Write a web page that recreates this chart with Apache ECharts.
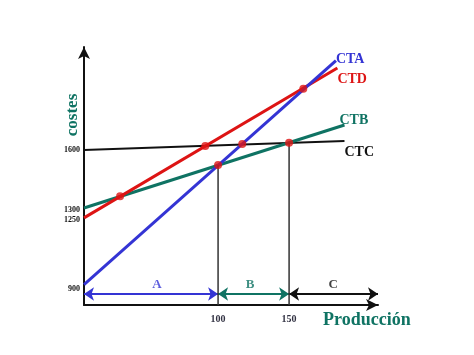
<!DOCTYPE html>
<html><head><meta charset="utf-8">
<script src="https://cdn.jsdelivr.net/npm/echarts@6/dist/echarts.min.js"></script>
<style>html,body{margin:0;padding:0;background:#fff}#c{width:474px;height:355px}</style>
</head><body><div id="c"></div>
<script>
// Data
const ctaLine = [[5.6, 922], [183, 2050]];
const ctdLine = [[5.6, 1258], [184, 2013]];
const ctbLine = [[5.6, 1308], [189, 1726]];
const ctcLine = [[5.6, 1600], [189, 1645]];
const intersections = [[31, 1367], [91, 1620], [100, 1524], [117, 1630], [150, 1636], [160, 1908]];
const guide100 = [[100, 819.4], [100, 1524]];
const guide150 = [[150, 819.4], [150, 1636]];
const zoneNames = ['A', 'B', 'C'];
const zoneSpans = [[5.6, 100], [100, 150], [150, 212.6]];
const zoneLabelX = [57, 122.5, 181];
const zoneArrowY = 875;
const zoneLabelY = 920;
const yTicks = [900, 1250, 1300, 1600];
const xTicks = [100, 150];

const BLUE = '#3434d4', RED = '#dd1414', TEAL = '#0f7363', BLACK = '#111';
const zoneColors = [BLUE, TEAL, BLACK];
const F = 'Liberation Serif';

function lineSeries(name, data, color, width, label, offset) {
  return {
    type: 'line', name, data, symbol: 'none', silent: true,
    lineStyle: { color, width },
    endLabel: { show: true, formatter: label, color, fontFamily: F, fontWeight: 'bold', fontSize: 14, distance: 0, offset }
  };
}

const chart = echarts.init(document.getElementById('c'));
chart.setOption({
  animation: false,
  grid: { left: 84, top: 47, width: 294, height: 258 },
  graphic: [{
    type: 'text', x: 73, y: 115, rotation: Math.PI / 2,
    style: { text: 'costes', fill: TEAL, font: 'bold 17px "Liberation Serif"', align: 'center', verticalAlign: 'middle' }
  }],
  xAxis: {
    type: 'value', min: 5.6, max: 212.6,
    splitLine: { show: false },
    axisTick: { show: false },
    axisLine: { lineStyle: { color: BLACK, width: 2 }, symbol: ['none', 'arrow'], symbolSize: [9, 12] },
    axisLabel: { customValues: xTicks, formatter: v => String(v), color: '#334', fontFamily: F, fontWeight: 'bold', fontSize: 10, margin: 9 },
    name: 'Producción', nameLocation: 'end', nameGap: 0,
    nameTextStyle: { color: TEAL, fontFamily: F, fontWeight: 'bold', fontSize: 18, align: 'left', verticalAlign: 'top', padding: [6, 0, 0, -55], lineHeight: 18 }
  },
  yAxis: {
    type: 'value', min: 819.4, max: 2118.7,
    splitLine: { show: false },
    axisTick: { show: false },
    axisLine: { show: true, lineStyle: { color: BLACK, width: 2 }, symbol: ['none', 'arrow'], symbolSize: [9, 12] },
    axisLabel: { customValues: yTicks, formatter: v => String(v), color: BLACK, fontFamily: F, fontWeight: 'bold', fontSize: 8, margin: 4 }
  },
  series: [
    lineSeries('CTC', ctcLine, BLACK, 2, 'CTC', [0, 11]),
    lineSeries('CTB', ctbLine, TEAL, 3, 'CTB', [-5, -5]),
    lineSeries('CTD', ctdLine, RED, 3, 'CTD', [0, 11]),
    lineSeries('CTA', ctaLine, BLUE, 3, 'CTA', [0, -1]),
    { type: 'line', data: guide100, symbol: 'none', silent: true, lineStyle: { color: '#333', width: 1.5 } },
    { type: 'line', data: guide150, symbol: 'none', silent: true, lineStyle: { color: '#333', width: 1.5 } },
    {
      type: 'lines', coordinateSystem: 'cartesian2d', silent: true,
      symbol: ['arrow', 'arrow'], symbolSize: 10,
      data: zoneSpans.map((s, i) => ({ coords: [[s[0], zoneArrowY], [s[1], zoneArrowY]], lineStyle: { color: zoneColors[i], width: 2, opacity: 1 } }))
    },
    {
      type: 'scatter', symbolSize: 0, silent: true,
      data: zoneNames.map((n, i) => ({ name: n, value: [zoneLabelX[i], zoneLabelY], label: { color: zoneColors[i] } })),
      label: { show: true, position: 'inside', formatter: '{b}', fontFamily: F, fontWeight: 'bold', fontSize: 13 }
    },
    {
      type: 'scatter', data: intersections, symbol: 'circle', symbolSize: 8, silent: true, z: 5,
      itemStyle: { color: RED }
    }
  ]
});
</script></body></html>
